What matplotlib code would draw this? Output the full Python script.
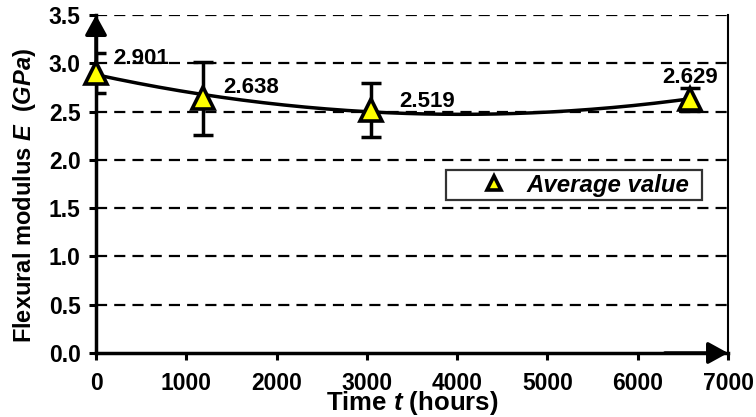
import numpy as np
from matplotlib import pyplot as plt

plt.rcParams['font.family'] = ['Liberation Sans', 'DejaVu Sans']
plt.rcParams['font.weight'] = 'bold'
plt.rcParams['mathtext.fontset'] = 'custom'
plt.rcParams['mathtext.it'] = 'Liberation Sans:italic:bold'
plt.rcParams['mathtext.rm'] = 'Liberation Sans:bold'

# data
time_h = [0, 1190, 3050, 6580]
modulus = [2.901, 2.638, 2.519, 2.629]
err = [0.21, 0.38, 0.28, 0.12]
labels = ['2.901', '2.638', '2.519', '2.629']
label_offsets = [(17, 14), (20, 11), (28, 8), (0, 22)]
label_ha = ['left', 'left', 'left', 'center']

fig = plt.figure(figsize=(7.56, 4.17), dpi=100)
ax = fig.add_axes([0.127, 0.1535, 0.836, 0.8105])
ax.set_xlim(0, 7000)
ax.set_ylim(0, 3.5)

# dashed grid
for yv in np.arange(0.5, 3.51, 0.5):
    ax.axhline(yv, color='black', lw=1.6, ls=(0, (5, 3.2)), zorder=1)

# trend (2nd order polynomial fit)
coef = np.polyfit(time_h, modulus, 2)
xs = np.linspace(0, max(time_h), 200)
ax.plot(xs, np.polyval(coef, xs), color='black', lw=2.5, zorder=3)

ax.errorbar(time_h, modulus, yerr=err, fmt='none', ecolor='black',
            elinewidth=2.5, capsize=7, capthick=2.5, zorder=4)
ax.plot(time_h, modulus, ls='none', marker='^', ms=16, mfc='yellow',
        mec='black', mew=2.6, zorder=5, clip_on=False, label='Average value')

for x, y, t, off, ha in zip(time_h, modulus, labels, label_offsets, label_ha):
    ax.annotate(t, (x, y), xytext=off, textcoords='offset pixels',
                ha=ha, va='center', fontsize=16, fontweight='bold')

# spines with arrow heads
ax.spines['top'].set_visible(False)
ax.spines['right'].set_linewidth(1.5)
ax.spines['left'].set_linewidth(2.5)
ax.spines['bottom'].set_linewidth(2.5)
arrow = dict(arrowstyle='-|>,head_length=0.6,head_width=0.33', color='black',
             lw=2.5, mutation_scale=20, shrinkA=0, shrinkB=0)
ax.annotate('', xy=(0, 1), xytext=(0, 0.8), xycoords='axes fraction',
            arrowprops=arrow, annotation_clip=False)
ax.annotate('', xy=(1, 0), xytext=(0.9, 0), xycoords='axes fraction',
            arrowprops=arrow, annotation_clip=False)

ax.set_xticks(np.arange(0, 7001, 1000))
ax.set_yticks(np.arange(0, 3.51, 0.5))
ax.set_yticklabels(['%.1f' % v for v in np.arange(0, 3.51, 0.5)])
ax.tick_params(axis='both', direction='out', length=5, width=2.2)
ax.tick_params(axis='x', labelsize=16.5, pad=9)
ax.tick_params(axis='y', labelsize=16.5, pad=6)

ax.set_xlabel(r'Time $t$ (hours)', fontsize=18.5, fontweight='bold', labelpad=-4.5)
ax.set_ylabel(r'Flexural modulus $E$  $(GPa)$', fontsize=17, fontweight='bold')
ax.yaxis.set_label_coords(-0.092, 0.467)

leg = ax.legend(loc='center', bbox_to_anchor=(0.554, 0.456, 0.405, 0.082),
                mode='expand', frameon=True, fancybox=False, handletextpad=-0.45,
                borderpad=0.15, borderaxespad=0,
                prop={'weight': 'bold', 'style': 'italic', 'size': 17.3},
                markerscale=0.65, handlelength=3.65)
leg.get_frame().set_edgecolor('black')
leg.get_frame().set_linewidth(1.6)

fig.savefig('out.png', dpi=100)
